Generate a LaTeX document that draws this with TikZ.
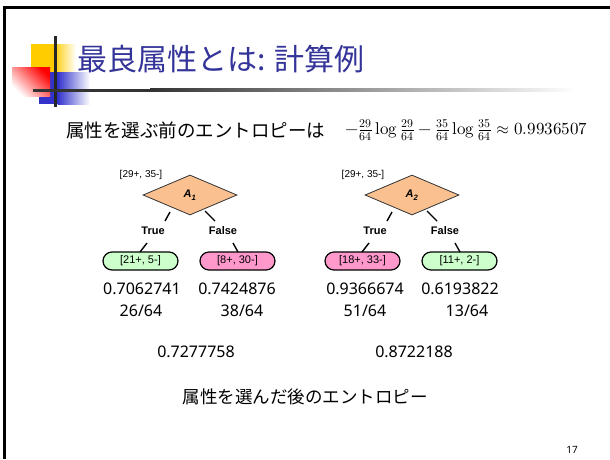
\documentclass[tikz,border=0pt]{standalone}
\usepackage{fontspec}
\usepackage{unicode-math}
\setmainfont{Liberation Sans}
\setmathfont{Latin Modern Math}
\newfontfamily\jafont{Noto Sans CJK JP}
\newfontfamily\numfont{Noto Sans}
\newcommand\mylogop{\mathop{\symup{log}}\nolimits}
\usetikzlibrary{shapes.geometric,shapes.misc}
\definecolor{titleblue}{RGB}{51,51,153}
\definecolor{dyellow}{RGB}{255,204,0}
\definecolor{dblue}{RGB}{51,51,204}
\definecolor{peach}{RGB}{250,192,143}
\definecolor{leafgreen}{RGB}{204,255,204}
\definecolor{leafpink}{RGB}{255,153,204}
\begin{document}
\begin{tikzpicture}[x=1pt,y=1pt,
  attr/.style={diamond, draw=black!80, line width=0.8pt, fill=peach, minimum width=94pt, minimum height=40pt, inner sep=0pt, font=\fontsize{11}{12}\selectfont\bfseries\itshape},
  leaf/.style={rounded rectangle, draw=black, line width=1.2pt, minimum width=75pt, minimum height=18pt, inner sep=0pt, font=\fontsize{11}{12}\selectfont},
  cnt/.style={font=\fontsize{10}{12}\selectfont, inner sep=0pt},
  branch/.style={font=\fontsize{11}{12}\selectfont\bfseries, inner sep=0pt},
  val/.style={font=\numfont\fontsize{16}{18}\selectfont, inner sep=0pt},
  conn/.style={line width=1.4pt}
]
\useasboundingbox (0,0) rectangle (610,-459);
\fill[white] (0,0) rectangle (610,-459);
% frame
\fill[black] (3,-6) rectangle (610,-8.5);
\fill[black] (3,-6) rectangle (6,-459);
% decoration
\fill[dyellow] (31,-44) rectangle (54,-72);
\shade[left color=dyellow, right color=white] (53.5,-44) rectangle (76,-72);
\fill[dblue] (39,-72) rectangle (58,-104);
\shade[left color=dblue, right color=white] (57.5,-72) rectangle (90,-104);
\shade[top color=red, bottom color=white, shading angle=-45] (12,-67) rectangle (50,-96);
\fill[black!85] (53.5,-36) rectangle (56.5,-107);
\fill[black!80] (33,-88.5) rectangle (150.5,-91.5);
\shade[left color=black!80, right color=white] (150,-88.5) rectangle (576,-91.5);
% title
\node[anchor=west, inner sep=0pt, text=titleblue, font=\jafont\fontsize{30}{32}\selectfont] (title) at (77,-59) {最良属性とは: 計算例};
% intro
\node[anchor=west, inner sep=0pt, font=\jafont\fontsize{18.5}{20}\selectfont] (intro) at (66,-130) {属性を選ぶ前のエントロピーは};
\node[anchor=west, inner sep=0pt, font=\fontsize{17}{19}\selectfont] (formula) at (345,-130) {$-\frac{29}{64}\mylogop\frac{29}{64}-\frac{35}{64}\mylogop\frac{35}{64}\approx 0.9936507$};
% tree 1
\node[cnt] (r1) at (141,-175) {[29+, 35-]};
\node[attr] (d1) at (190,-195) {A\textsubscript{1}};
\node[branch] (t1) at (153,-231) {True};
\node[branch] (f1) at (223,-231) {False};
\node[leaf, fill=leafgreen] (l1) at (140.5,-261) {[21+, 5-]};
\node[leaf, fill=leafpink] (l2) at (237.5,-261) {[8+, 30-]};
\coordinate (a1) at (170,-212); \coordinate (a2) at (165,-221);
\coordinate (a3) at (205,-211); \coordinate (a4) at (215,-221);
\coordinate (a5) at (147,-243); \coordinate (a6) at (140,-252);
\coordinate (a7) at (233,-243); \coordinate (a8) at (238,-252);
\draw[conn] (a1) -- (a2); \draw[conn] (a3) -- (a4);
\draw[conn] (a5) -- (a6); \draw[conn] (a7) -- (a8);
% tree 2
\node[cnt] (r2) at (363,-175) {[29+, 35-]};
\node[attr] (d2) at (412,-195) {A\textsubscript{2}};
\node[branch] (t2) at (375,-231) {True};
\node[branch] (f2) at (445,-231) {False};
\node[leaf, fill=leafpink] (l3) at (362.5,-261) {[18+, 33-]};
\node[leaf, fill=leafgreen] (l4) at (459.5,-261) {[11+, 2-]};
\coordinate (b1) at (392,-212); \coordinate (b2) at (387,-221);
\coordinate (b3) at (427,-211); \coordinate (b4) at (437,-221);
\coordinate (b5) at (369,-243); \coordinate (b6) at (362,-252);
\coordinate (b7) at (455,-243); \coordinate (b8) at (460,-252);
\draw[conn] (b1) -- (b2); \draw[conn] (b3) -- (b4);
\draw[conn] (b5) -- (b6); \draw[conn] (b7) -- (b8);
% values
\node[val] (v1) at (142,-289) {0.7062741};
\node[val] (v2) at (237,-289) {0.7424876};
\node[val] (v3) at (365,-289) {0.9366674};
\node[val] (v4) at (460,-289) {0.6193822};
\node[val] (w1) at (141,-311) {26/64};
\node[val] (w2) at (242,-311) {38/64};
\node[val] (w3) at (365,-311) {51/64};
\node[val] (w4) at (467,-311) {13/64};
\node[val] (m1) at (196,-352) {0.7277758};
\node[val] (m2) at (414,-352) {0.8722188};
\node[inner sep=0pt, font=\jafont\fontsize{17.5}{20}\selectfont] (after) at (305,-397) {属性を選んだ後のエントロピー};
\node[inner sep=0pt, font=\numfont\fontsize{10}{12}\selectfont] (pg) at (572,-450) {17};
\end{tikzpicture}
\end{document}
